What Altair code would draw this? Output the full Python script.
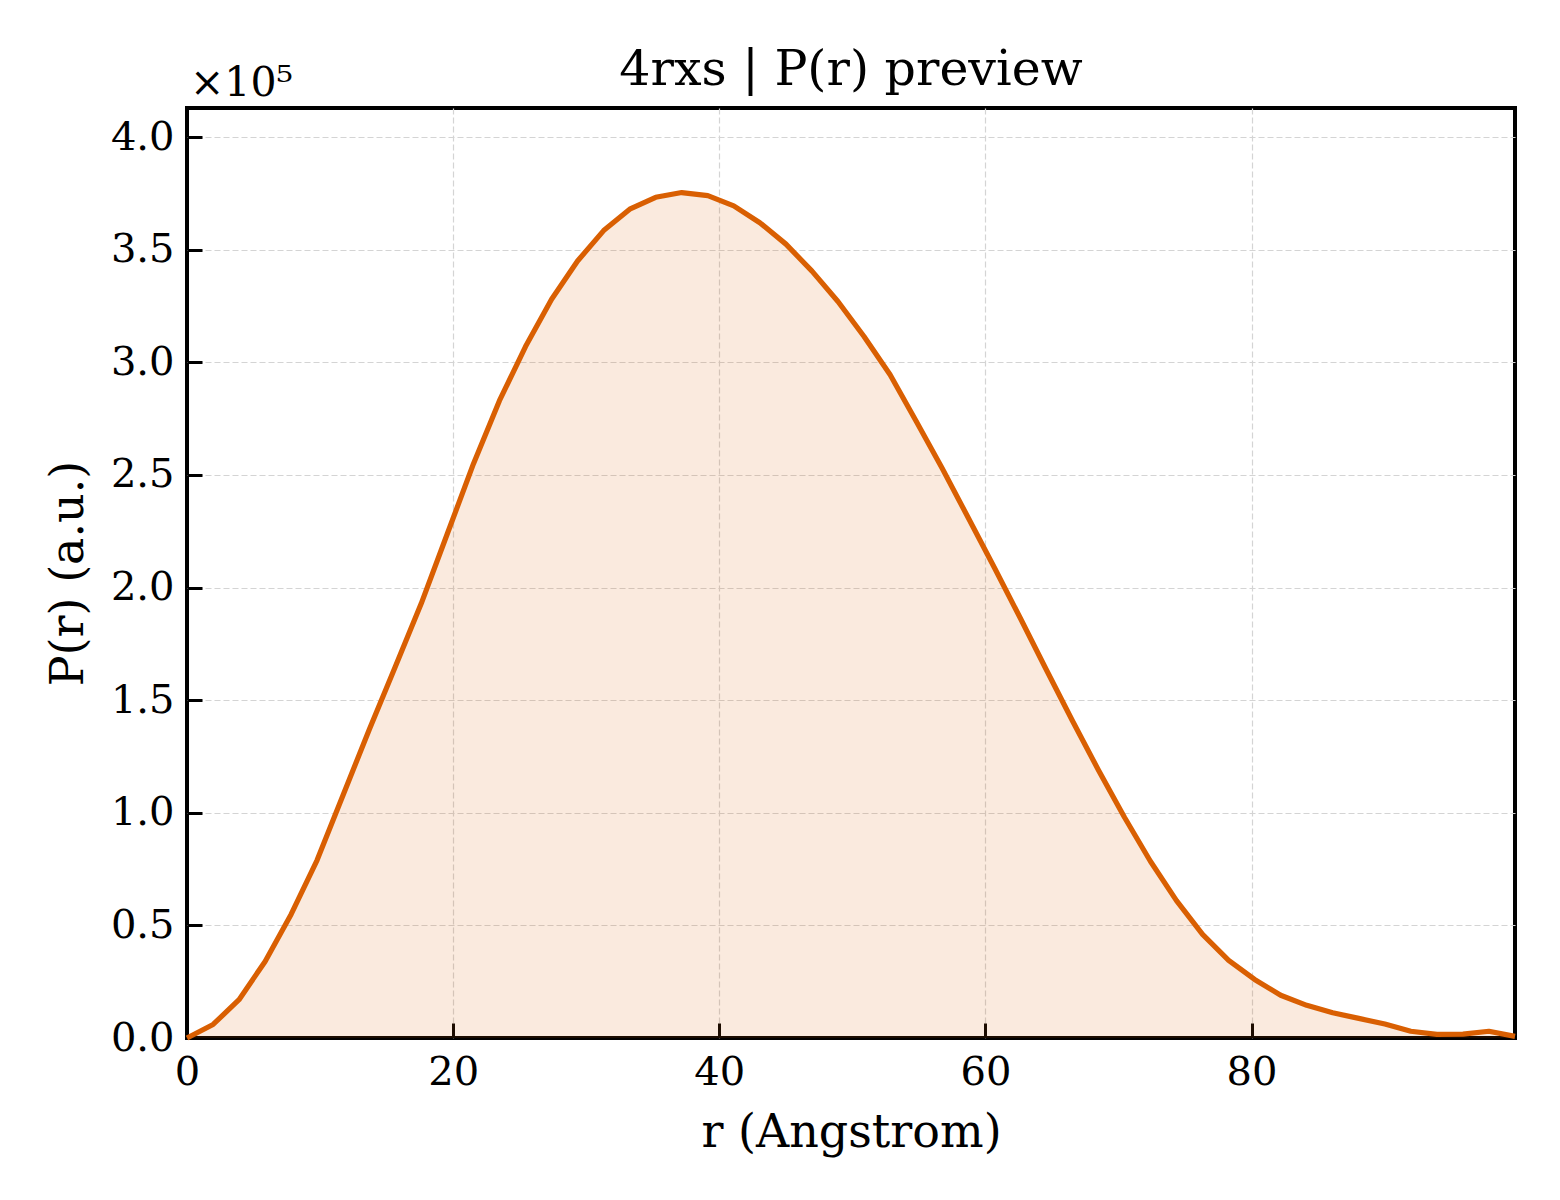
import altair as alt
import pandas as pd

# r values (Angstrom)
r_vals = [0.0, 1.96, 3.91, 5.87, 7.83, 9.78, 11.74, 13.70, 15.66, 17.61,
          19.57, 21.53, 23.48, 25.44, 27.40, 29.35, 31.31, 33.27, 35.22, 37.18,
          39.14, 41.09, 43.05, 45.01, 46.97, 48.92, 50.88, 52.84, 54.79, 56.75,
          58.71, 60.66, 62.62, 64.58, 66.53, 68.49, 70.45, 72.40, 74.36, 76.32,
          78.28, 80.23, 82.19, 84.15, 86.10, 88.06, 90.02, 91.97, 93.93, 95.89,
          97.84, 99.80]

# P(r) values (a.u.)
pr_vals = [0, 6000, 17000, 34000, 55000, 79000, 108000, 137000, 165000, 193000,
           224000, 255000, 283000, 307000, 328000, 345000, 358500, 368000, 373300, 375400,
           374000, 369500, 362000, 352500, 340500, 327000, 311500, 294500, 274000, 253000,
           231000, 209000, 186500, 163500, 141000, 119000, 98000, 78500, 61000, 46000,
           34500, 26000, 19000, 14500, 11200, 8700, 6200, 3000, 1600, 1700,
           3000, 700]

title_text = "4rxs | P(r) preview"
x_title = "r (Angstrom)"
y_title = "P(r) (a.u.)"
offset_text = "×10⁵"
x_ticks = [0, 20, 40, 60, 80]
y_ticks = [0, 50000, 100000, 150000, 200000, 250000, 300000, 350000, 400000]

df = pd.DataFrame({"r": r_vals, "pr": pr_vals})

FONT = "DejaVu Serif"
ORANGE = "#D95F02"
ymax = max(pr_vals) * 1.1
xmax = max(r_vals)

xscale = alt.Scale(domain=[0, xmax], nice=False, zero=False)
yscale = alt.Scale(domain=[0, ymax], nice=False)

no_edge_grid = {"condition": {"test": "datum.value === 0", "value": 0}, "value": 1}

x_axis = alt.Axis(
    title=x_title, values=x_ticks, format="d", offset=-15, tickSize=15,
    labelPadding=14, titlePadding=18, gridOpacity=no_edge_grid,
)
y_axis = alt.Axis(
    title=y_title, values=y_ticks, labelExpr="format(datum.value/100000, '.1f')",
    offset=-15, tickSize=15, labelPadding=13, titlePadding=18,
    gridOpacity=no_edge_grid,
)

base = alt.Chart(df)

area = base.mark_area(color=ORANGE, opacity=0.13).encode(
    x=alt.X("r:Q", scale=xscale, axis=x_axis),
    y=alt.Y("pr:Q", scale=yscale, axis=y_axis),
)

line = base.mark_line(color=ORANGE, strokeWidth=5.2, strokeJoin="round").encode(
    x=alt.X("r:Q", scale=xscale),
    y=alt.Y("pr:Q", scale=yscale),
)

offset_label = alt.Chart(pd.DataFrame({"t": [offset_text]})).mark_text(
    align="left", baseline="alphabetic", dx=3, dy=-12,
    font=FONT, fontSize=41, color="black",
).encode(
    x=alt.datum(0, scale=xscale),
    y=alt.datum(ymax, scale=yscale),
    text="t:N",
)

chart = alt.layer(area, line, offset_label).properties(
    width=1328, height=930,
    title=alt.TitleParams(title_text, font=FONT, fontSize=49, fontWeight="normal",
                          color="black", anchor="middle", offset=18, dy=50),
    autosize=alt.AutoSizeParams(type="none"),
    padding={"left": 179, "top": 100, "right": 37, "bottom": 150},
).configure_view(
    stroke="black", strokeWidth=4,
).configure_axis(
    domain=False,
    tickColor="black", tickWidth=3,
    labelFont=FONT, labelFontSize=40, labelColor="black",
    titleFont=FONT, titleFontSize=46, titleFontWeight="normal", titleColor="black",
    grid=True, gridColor="#d4d4d4", gridWidth=1.2, gridDash=[6, 3],
    labelFlush=False, labelOverlap=False,
)

chart.save("out.html", embed_options={"renderer": "svg", "actions": False})
